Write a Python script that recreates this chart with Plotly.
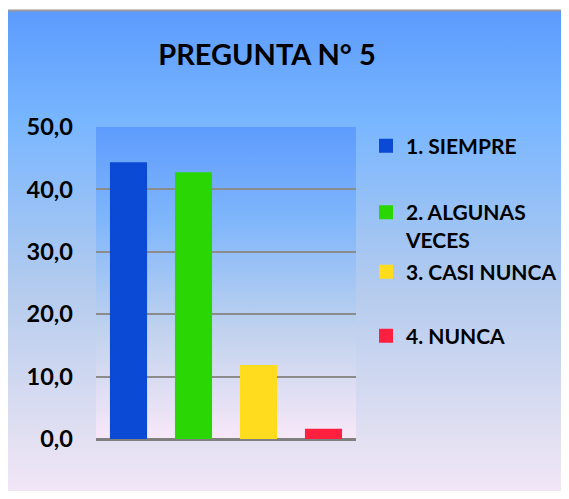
import base64
import plotly.graph_objects as go

# ---- data ----
series_names = ["1. SIEMPRE", "2. ALGUNAS<br>VECES", "3. CASI NUNCA", "4. NUNCA"]
series_values = [44.2, 42.6, 11.7, 1.5]
series_colors = ["#0b4ad4", "#2ad604", "#ffdd1e", "#ff2040"]
category = [""]
y_ticks = [0, 10, 20, 30, 40, 50]
title_text = "PREGUNTA N° 5"

# page has an 8px body margin: figure coords = page coords - 8
OFF = 8
W, H = 561, 483
L, T = 96 - OFF, 127 - OFF
R = W - (356 - OFF)
B = H - (439 - OFF)
PW, PH = W - L - R, H - T - B

svg = f'''<svg xmlns="http://www.w3.org/2000/svg" width="{W}" height="{H}" viewBox="0 0 {W} {H}">
<defs>
<linearGradient id="g1" x1="0" y1="0" x2="0" y2="1">
<stop offset="0" stop-color="#5c9bfd"/>
<stop offset="0.22" stop-color="#78b6ff"/>
<stop offset="0.55" stop-color="#b3cbee"/>
<stop offset="0.85" stop-color="#e2e0f2"/>
<stop offset="1" stop-color="#f8e8f8"/>
</linearGradient>
<linearGradient id="g2" x1="0" y1="0" x2="0" y2="1">
<stop offset="0" stop-color="#5e9cfe"/>
<stop offset="0.3" stop-color="#7fb6fb"/>
<stop offset="0.65" stop-color="#c0d2ee"/>
<stop offset="1" stop-color="#f8e8f8"/>
</linearGradient>
</defs>
<rect x="0" y="0" width="{W}" height="{H}" fill="#ffffff"/>
<rect x="{5.5-OFF}" y="{10.5-OFF}" width="{W+20}" height="{H+20}" fill="url(#g1)" stroke="#9a9a9a" stroke-width="2"/>
<rect x="{L}" y="{T}" width="{PW}" height="{PH}" fill="url(#g2)"/>
</svg>'''
src = "data:image/svg+xml;base64," + base64.b64encode(svg.encode()).decode()

fig = go.Figure()
legend_ids = ["legend", "legend2", "legend3", "legend4"]
for name, val, col, lg in zip(series_names, series_values, series_colors, legend_ids):
    fig.add_trace(go.Bar(x=category, y=[val], name=name,
                         marker=dict(color=col, line=dict(width=2, color=col)),
                         legend=lg, showlegend=True))

def py(p):
    return (H - B - (p - OFF)) / PH

def px_(p):
    return (p - OFF - L) / PW

leg_font = dict(family="Lato", size=21, color="#000000", weight="bold")
legend_common = dict(bgcolor="rgba(0,0,0,0)", borderwidth=0, font=leg_font,
                     xanchor="left", yanchor="middle", itemwidth=30, valign="top",
                     itemclick=False, itemdoubleclick=False)
leg_pos = [146, 226, 272, 336]
layout_legends = {}
for lg, yy in zip(legend_ids, leg_pos):
    layout_legends[lg] = dict(x=px_(366), y=py(yy), **legend_common)

fig.update_layout(
    width=W, height=H,
    margin=dict(l=L, r=R, t=T, b=B, pad=0, autoexpand=False),
    paper_bgcolor="#ffffff",
    plot_bgcolor="rgba(0,0,0,0)",
    barmode="group",
    bargap=0,
    bargroupgap=0.46,
    separators=",.",
    title=dict(text=title_text, x=(267 - OFF) / W, xref="container", xanchor="center",
               y=1 - (55 - OFF) / H, yref="container", yanchor="middle",
               font=dict(family="Lato", size=29, color="#000000", weight="bold")),
    images=[dict(source=src, xref="paper", yref="paper",
                 x=-L / PW, y=(H - B) / PH, sizex=W / PW, sizey=H / PH,
                 xanchor="left", yanchor="top", sizing="stretch", layer="below")],
    xaxis=dict(showticklabels=False, showgrid=False, zeroline=False, showline=False,
               ticks="", fixedrange=True),
    yaxis=dict(range=[0, 50], tickvals=y_ticks, tickformat=".1f",
               showgrid=True, gridcolor="#8c8c8c", gridwidth=2,
               zeroline=True, zerolinecolor="#808080", zerolinewidth=3,
               showline=False, ticks="", ticklabelstandoff=22,
               tickfont=dict(family="Lato", size=23.5, color="#000000", weight="bold"),
               fixedrange=True),
    **layout_legends,
)

fig.write_html("out.html")
